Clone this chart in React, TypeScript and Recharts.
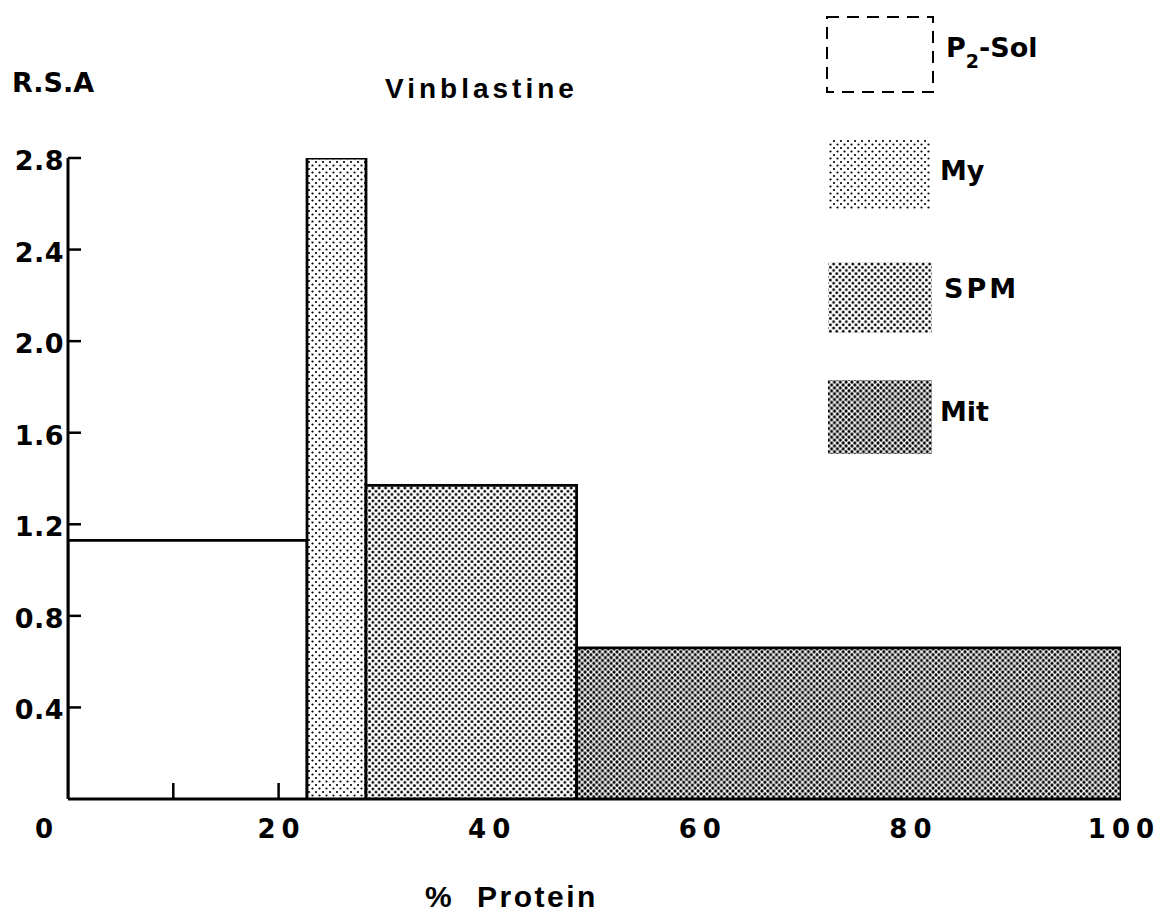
import React from 'react'
import { ComposedChart, Area, XAxis, YAxis } from 'recharts'

// fractions, widths along the % protein axis and relative specific activity
const FRACTIONS = ['P2-Sol', 'My', 'SPM', 'Mit']
const PROTEIN_START = [0, 22.7, 28.3, 48.3]
const PROTEIN_END = [22.7, 28.3, 48.3, 100]
const RSA = [1.13, 2.8, 1.37, 0.66]

const X_TICKS = [0, 10, 20, 30, 40, 50, 60, 70, 80, 90, 100]
const X_LABELS = [0, 20, 40, 60, 80, 100]
const Y_TICKS = [0.4, 0.8, 1.2, 1.6, 2.0, 2.4, 2.8]

const FILLS = ['none', 'url(#dotsMy)', 'url(#dotsSpm)', 'url(#dotsMit)']

const W = 1159
const H = 905
const BOLD_WIDE = '"DejaVu Sans", sans-serif'
const BOLD_NARROW = '"Liberation Sans", Arial, sans-serif'

function DotPattern({ id, cell, r }: { id: string; cell: number; r: number }) {
  const h = cell / 2
  return (
    <pattern id={id} width={cell} height={cell} patternUnits="userSpaceOnUse">
      <rect width={cell} height={cell} fill="#fff" />
      <circle cx={0} cy={0} r={r} fill="#000" />
      <circle cx={cell} cy={0} r={r} fill="#000" />
      <circle cx={0} cy={cell} r={r} fill="#000" />
      <circle cx={cell} cy={cell} r={r} fill="#000" />
      <circle cx={h} cy={h} r={r} fill="#000" />
    </pattern>
  )
}

function Patterns({ prefix = '' }: { prefix?: string }) {
  return (
    <defs>
      <DotPattern id={prefix + 'dotsMy'} cell={7} r={1.1} />
      <DotPattern id={prefix + 'dotsSpm'} cell={6.4} r={1.45} />
      <DotPattern id={prefix + 'dotsMit'} cell={5.8} r={1.6} />
    </defs>
  )
}

function XTick(props: any) {
  const { x, y, payload } = props
  const v = payload.value
  const showLabel = X_LABELS.includes(v)
  // tick marks only show in the open P2-Sol region, the shaded bars cover the rest
  const showMark = v > 0 && v < PROTEIN_END[0]
  return (
    <g>
      {showMark && <line x1={x} x2={x} y1={y} y2={y - 16} stroke="#000" strokeWidth={2.5} />}
      {showLabel && (
        <text
          x={v === 0 ? x - 21 : x + 3}
          y={y + 39}
          textAnchor="middle"
          fontFamily={BOLD_WIDE}
          fontWeight="bold"
          fontSize={26}
          letterSpacing={6}
          fill="#000"
        >
          {v}
        </text>
      )}
    </g>
  )
}

function YTick(props: any) {
  const { x, y, payload } = props
  return (
    <g>
      <line x1={x} x2={x + 13} y1={y} y2={y} stroke="#000" strokeWidth={2.5} />
      <text
        x={x - 4}
        y={y + 12}
        textAnchor="end"
        fontFamily={BOLD_WIDE}
        fontWeight="bold"
        fontSize={27}
        letterSpacing={0.5}
        fill="#000"
      >
        {payload.value.toFixed(1)}
      </text>
    </g>
  )
}

const series = FRACTIONS.map((name, i) => ({
  name,
  fill: FILLS[i],
  points: [
    { x: PROTEIN_START[i], y: 0 },
    { x: PROTEIN_START[i], y: RSA[i] },
    { x: PROTEIN_END[i], y: RSA[i] },
    { x: PROTEIN_END[i], y: 0 },
  ],
}))

const legendBoxes = [
  { x: 819, y: 9, w: 106, h: 75, tx: 938, ty: 49 },
  { x: 821, y: 131, w: 101, h: 70, tx: 932, ty: 172 },
  { x: 820, y: 254, w: 104, h: 71, tx: 936, ty: 290 },
  { x: 820, y: 372, w: 104, h: 74, tx: 932, ty: 413 },
]

function Overlay() {
  const legendFills = ['none', 'url(#lgdotsMy)', 'url(#lgdotsSpm)', 'url(#lgdotsMit)']
  return (
    <svg
      width={W}
      height={H}
      style={{ position: 'absolute', left: 0, top: 0, pointerEvents: 'none' }}
    >
      <Patterns prefix="lg" />
      <text x={4} y={84} fontFamily={BOLD_WIDE} fontWeight="bold" fontSize={27} fill="#000">
        R.S.A
      </text>
      <text
        x={377}
        y={90}
        fontFamily={BOLD_NARROW}
        fontWeight="bold"
        fontSize={28}
        letterSpacing={4}
        fill="#000"
      >
        Vinblastine
      </text>
      <text
        x={417}
        y={899}
        fontFamily={BOLD_NARROW}
        fontWeight="bold"
        fontSize={30}
        letterSpacing={2.5}
        wordSpacing={12}
        fill="#000"
      >
        % Protein
      </text>
      {FRACTIONS.map((name, i) => {
        const b = legendBoxes[i]
        return (
          <g key={name}>
            <rect
              x={b.x}
              y={b.y}
              width={b.w}
              height={b.h}
              fill={i === 0 ? '#fff' : legendFills[i]}
              stroke={i === 0 ? '#000' : 'none'}
              strokeWidth={2}
              strokeDasharray={i === 0 ? '12 8' : undefined}
            />
            {i === 0 ? (
              <text x={b.tx} y={b.ty} fontFamily={BOLD_WIDE} fontWeight="bold" fontSize={27} fill="#000">
                P
                <tspan fontSize={19} dy={11}>2</tspan>
                <tspan dy={-11}>-Sol</tspan>
              </text>
            ) : (
              <text
                x={b.tx}
                y={b.ty}
                fontFamily={BOLD_WIDE}
                fontWeight="bold"
                fontSize={27}
                letterSpacing={name === 'SPM' ? 3 : 0}
                fill="#000"
              >
                {name}
              </text>
            )}
          </g>
        )
      })}
    </svg>
  )
}

export default function App() {
  return (
    <div style={{ position: 'relative', width: W, height: H, background: '#fff' }}>
      <ComposedChart width={W} height={H} margin={{ top: 150, right: 46, bottom: 54, left: 0 }}>
        <Patterns />
        <XAxis
          type="number"
          dataKey="x"
          domain={[0, 100]}
          ticks={X_TICKS}
          allowDataOverflow
          height={60}
          tickSize={0}
          tickMargin={0}
          tickLine={false}
          axisLine={{ stroke: '#000', strokeWidth: 3 }}
          tick={(p: any) => <XTick {...p} />}
          interval={0}
        />
        <YAxis
          type="number"
          domain={[0, 2.8]}
          ticks={Y_TICKS}
          allowDataOverflow
          width={60}
          tickSize={0}
          tickMargin={0}
          tickLine={false}
          axisLine={{ stroke: '#000', strokeWidth: 3 }}
          tick={(p: any) => <YTick {...p} />}
          interval={0}
        />
        {series.map((s) => (
          <Area
            key={s.name}
            name={s.name}
            data={s.points}
            dataKey="y"
            type="linear"
            stroke="#000"
            strokeWidth={2.8}
            fill={s.fill}
            fillOpacity={1}
            dot={false}
            activeDot={false}
            isAnimationActive={false}
          />
        ))}
      </ComposedChart>
      <Overlay />
    </div>
  )
}
